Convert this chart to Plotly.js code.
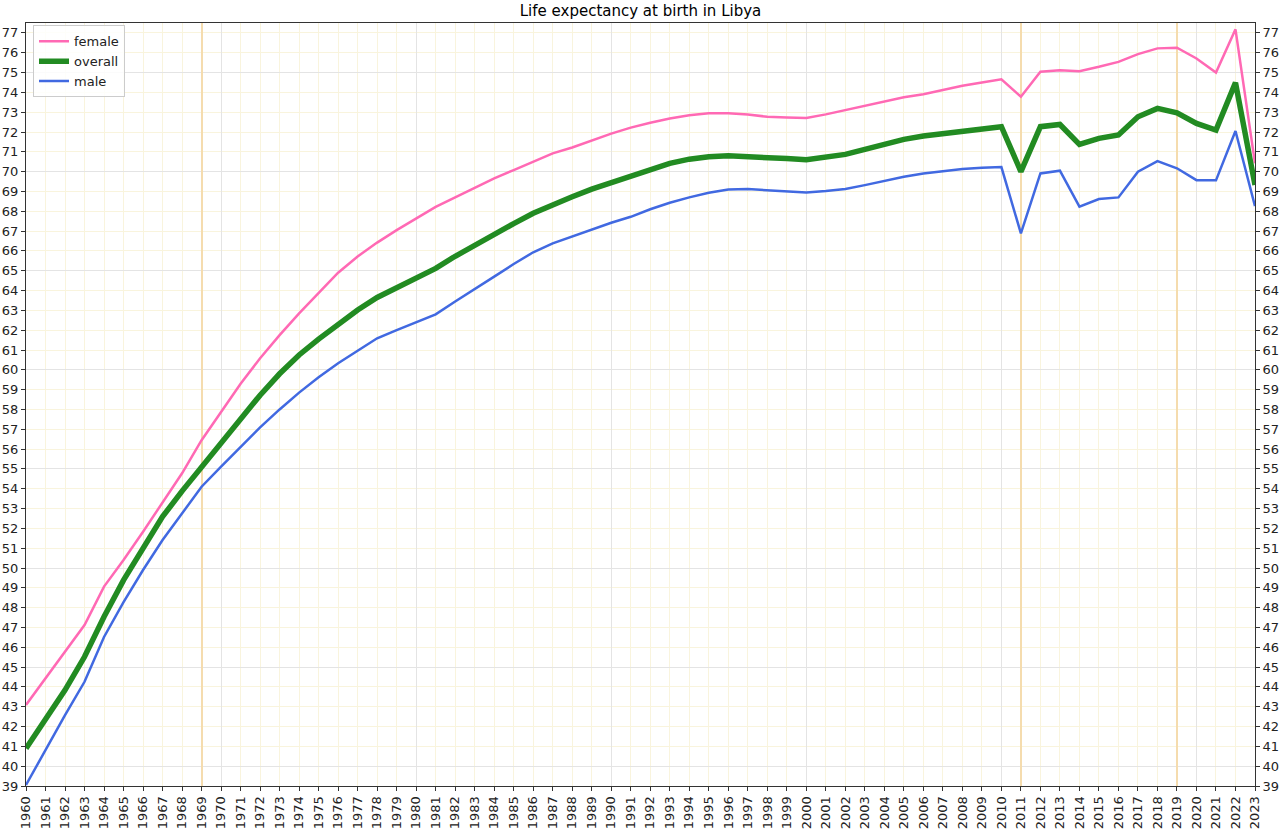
<!DOCTYPE html>
<html>
<head>
<meta charset="utf-8">
<script src="https://cdn.plot.ly/plotly-3.0.1.min.js"></script>
<style>html,body{margin:0;padding:0;background:#fff;}#chart{width:1280px;height:833px;}</style>
</head>
<body>
<div id="chart"></div>
<script>
const years = [];
for (let y = 1960; y <= 2023; y++) years.push(y);

const female = [43.09,44.43,45.78,47.12,49.06,50.40,51.83,53.34,54.78,56.45,
  57.90,59.30,60.58,61.75,62.85,63.86,64.90,65.72,66.42,67.05,
  67.62,68.22,68.70,69.19,69.66,70.08,70.52,70.92,71.22,71.59,
  71.92,72.22,72.47,72.68,72.85,72.94,72.94,72.88,72.77,72.73,
  72.71,72.89,73.11,73.33,73.56,73.75,73.91,74.12,74.33,74.50,
  74.66,73.78,75.04,75.12,75.07,75.29,75.54,75.93,76.22,76.25,
  75.71,75.00,77.18,70.42];

const overall = [40.90,42.33,43.84,45.52,47.54,49.39,51.00,52.59,53.88,55.11,
  56.35,57.55,58.72,59.80,60.75,61.55,62.31,63.02,63.65,64.16,
  64.65,65.12,65.73,66.30,66.80,67.38,67.90,68.35,68.73,69.12,
  69.44,69.78,70.13,70.42,70.63,70.75,70.80,70.77,70.71,70.66,
  70.60,70.70,70.87,71.12,71.37,71.63,71.80,71.93,72.06,72.17,
  72.27,70.00,72.27,72.38,71.37,71.68,71.85,72.77,73.19,72.97,
  72.43,72.10,74.49,69.32];

const male = [39.05,40.82,42.58,44.26,46.52,48.28,49.90,51.41,52.76,54.10,
  55.11,56.10,57.10,58.00,58.85,59.62,60.33,60.96,61.59,62.00,
  62.40,62.80,63.45,64.06,64.70,65.34,65.93,66.38,66.72,67.09,
  67.42,67.72,68.10,68.43,68.70,68.93,69.10,69.12,69.07,69.01,
  68.95,69.02,69.12,69.32,69.54,69.74,69.91,70.03,70.13,70.20,
  70.23,66.88,69.91,70.05,68.23,68.62,68.70,70.00,70.53,70.17,
  69.57,69.56,72.05,68.26];

const tickLabels = years.map(String);
const decadeTicks = [1960,1970,1980,1990,2000,2010,2020];
const eventTicks = [1969,2011,2019];
const yTicks = [];
for (let v = 39; v <= 77; v++) yTicks.push(v);
const yMajorTicks = [40,45,50,55,60,65,70,75];

const xRange = [1960, 2023];
const yRange = [39, 77.5];

const traces = [
  {x: years, y: female, name: 'female', mode: 'lines', line: {color: '#ff69b4', width: 2.5}},
  {x: years, y: overall, name: 'overall', mode: 'lines', line: {color: '#228b22', width: 5.5}},
  {x: years, y: male, name: 'male', mode: 'lines', line: {color: '#4169e1', width: 2.5}},
  {x: [], y: [], xaxis: 'x2', yaxis: 'y', showlegend: false, hoverinfo: 'skip'},
  {x: [], y: [], xaxis: 'x3', yaxis: 'y', showlegend: false, hoverinfo: 'skip'},
  {x: [], y: [], xaxis: 'x', yaxis: 'y2', showlegend: false, hoverinfo: 'skip'},
  {x: [], y: [], xaxis: 'x', yaxis: 'y3', showlegend: false, hoverinfo: 'skip'}
];

const layout = {
  width: 1280, height: 833,
  margin: {l: 26, r: 25, t: 23, b: 47, pad: 0},
  paper_bgcolor: '#ffffff', plot_bgcolor: '#ffffff',
  font: {family: 'DejaVu Sans, sans-serif', size: 13, color: '#222'},
  title: {text: 'Life expectancy at birth in Libya', x: 0.5, xref: 'paper', xanchor: 'center',
          y: 1 - 11/833, yref: 'container', yanchor: 'middle',
          font: {family: 'DejaVu Sans, sans-serif', size: 15, color: '#000'}},
  showlegend: true,
  legend: {x: 0.0057, y: 0.997, xanchor: 'left', yanchor: 'top', bgcolor: 'rgba(255,255,255,0.85)',
           bordercolor: '#cccccc', borderwidth: 1, itemwidth: 30, tracegroupgap: 0,
           font: {family: 'DejaVu Sans, sans-serif', size: 13, color: '#222'}},
  hovermode: false,
  xaxis: {range: xRange, tickmode: 'array', tickvals: years, ticktext: tickLabels, tickangle: -90,
          ticks: 'outside', ticklen: 4, tickcolor: '#333', showline: true, linecolor: '#333', linewidth: 1,
          mirror: true, showgrid: true, gridcolor: '#f9f4dd', gridwidth: 1, zeroline: false,
          tickfont: {size: 13, color: '#222'}},
  xaxis2: {range: xRange, overlaying: 'x', anchor: 'y', tickmode: 'array', tickvals: decadeTicks,
           showticklabels: false, ticks: '', showline: false, showgrid: true, gridcolor: '#e4e4e4',
           gridwidth: 1, zeroline: false},
  xaxis3: {range: xRange, overlaying: 'x', anchor: 'y', tickmode: 'array', tickvals: eventTicks,
           showticklabels: false, ticks: '', showline: false, showgrid: true, gridcolor: '#f5dcae',
           gridwidth: 2, zeroline: false},
  yaxis: {range: yRange, tickmode: 'array', tickvals: yTicks, ticks: 'outside', ticklen: 4, tickcolor: '#333',
          showline: true, linecolor: '#333', linewidth: 1, mirror: true, showgrid: true,
          gridcolor: '#f9f4dd', gridwidth: 1, zeroline: false, tickfont: {size: 13, color: '#222'}},
  yaxis2: {range: yRange, overlaying: 'y', anchor: 'x', side: 'right', tickmode: 'array', tickvals: yTicks,
           ticks: 'outside', ticklen: 4, tickcolor: '#333', showline: false, showgrid: false,
           zeroline: false, tickfont: {size: 13, color: '#222'}},
  yaxis3: {range: yRange, overlaying: 'y', anchor: 'x', tickmode: 'array', tickvals: yMajorTicks,
           showticklabels: false, ticks: '', showline: false, showgrid: true, gridcolor: '#e4e4e4',
           gridwidth: 1, zeroline: false}
};

Plotly.newPlot('chart', traces, layout, {displayModeBar: false, staticPlot: true});
</script>
</body>
</html>
